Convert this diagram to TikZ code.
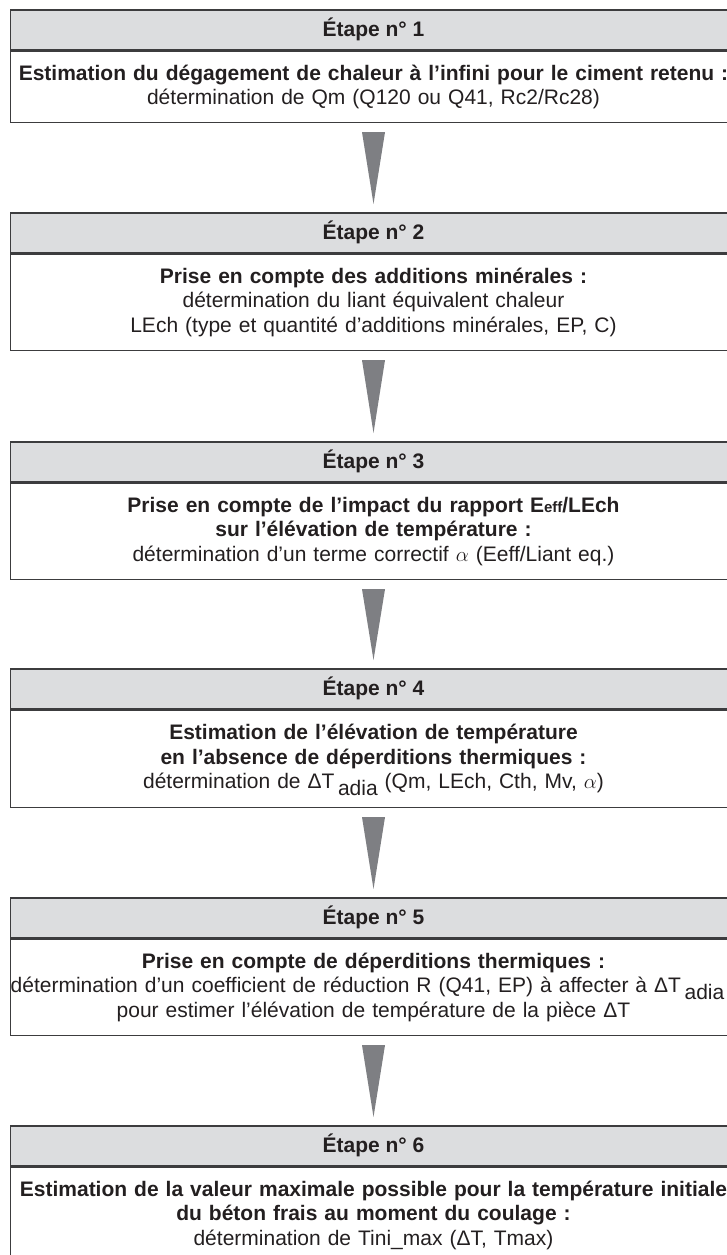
\documentclass[tikz,border=0pt]{standalone}
\usepackage{fontspec}
\setmainfont{Liberation Sans}
\usetikzlibrary{calc}
\definecolor{hdr}{RGB}{220,221,223}
\definecolor{edge}{RGB}{60,60,62}
\definecolor{arr}{RGB}{126,127,131}
\definecolor{ink}{RGB}{35,31,32}
\newcommand\rowtxt[1]{\makebox[700pt]{#1}}
\newcommand\subadia{\,\smash{\raisebox{-7pt}{adia}}}
\tikzset{
  hdrbox/.style={draw=edge, line width=1.6pt, fill=hdr, minimum width=726pt,
    minimum height=40pt, inner sep=0pt, anchor=north,
    font=\fontsize{21}{24}\selectfont\bfseries, text=ink},
  bodybox/.style={draw=edge, line width=1.6pt, minimum width=726pt, inner sep=0pt,
    anchor=north, text width=700pt, align=center,
    font=\fontsize{21}{24.5}\selectfont, text=ink},
  funnel/.style={fill=arr, draw=none}
}
\begin{document}
\begin{tikzpicture}[x=1pt,y=-1pt]
\useasboundingbox (0,0) rectangle (726,1255);
% step 1
\node[hdrbox] (h1) at (373.5,9) {Étape n° 1};
\node[bodybox, minimum height=71pt] (b1) at (h1.south)
  {\rowtxt{\textbf{Estimation du dégagement de chaleur à l’infini pour le ciment retenu :}}\\
   \rowtxt{détermination de Qm (Q120 ou Q41, Rc2/Rc28)}};
% step 2
\node[hdrbox] (h2) at (373.5,212) {Étape n° 2};
\node[bodybox, minimum height=96pt] (b2) at (h2.south)
  {\rowtxt{\textbf{Prise en compte des additions minérales :}}\\
   \rowtxt{détermination du liant équivalent chaleur}\\
   \rowtxt{LEch (type et quantité d’additions minérales, EP, C)}};
% step 3
\node[hdrbox] (h3) at (373.5,441) {Étape n° 3};
\node[bodybox, minimum height=96pt] (b3) at (h3.south)
  {\rowtxt{\textbf{Prise en compte de l’impact du rapport E{\fontsize{15}{15}\selectfont eff}/LEch}}\\
   \rowtxt{\textbf{sur l’élévation de température :}}\\
   \rowtxt{détermination d’un terme correctif $\alpha$ (Eeff/Liant eq.)}};
% step 4
\node[hdrbox] (h4) at (373.5,668) {Étape n° 4};
\node[bodybox, minimum height=97pt] (b4) at (h4.south)
  {\rowtxt{\textbf{Estimation de l’élévation de température}}\\
   \rowtxt{\textbf{en l’absence de déperditions thermiques :}}\\
   \rowtxt{détermination de ΔT\subadia{} (Qm, LEch, Cth, Mv, $\alpha$)}};
% step 5
\node[hdrbox] (h5) at (373.5,897) {Étape n° 5};
\node[bodybox, minimum height=96pt] (b5) at (h5.south)
  {\rowtxt{\textbf{Prise en compte de déperditions thermiques :}}\\
   \rowtxt{\hspace*{-12pt}détermination d’un coefficient de réduction R (Q41, EP) à affecter à ΔT\subadia}\\
   \rowtxt{pour estimer l’élévation de température de la pièce ΔT}};
% step 6
\node[hdrbox] (h6) at (373.5,1125) {Étape n° 6};
\node[bodybox, minimum height=96pt] (b6) at (h6.south)
  {\rowtxt{\textbf{Estimation de la valeur maximale possible pour la température initiale}}\\
   \rowtxt{\textbf{du béton frais au moment du coulage :}}\\
   \rowtxt{détermination de Tini\_max (ΔT, Tmax)}};
% funnels
\foreach \a/\b in {b1/h2, b2/h3, b3/h4, b4/h5, b5/h6}{
  \fill[funnel] ($(\a.south)+(-11.5,9)$) -- ($(\a.south)+(11.5,9)$)
     -- ($(\b.north)+(0,-8)$) -- cycle;
}
\end{tikzpicture}
\end{document}
